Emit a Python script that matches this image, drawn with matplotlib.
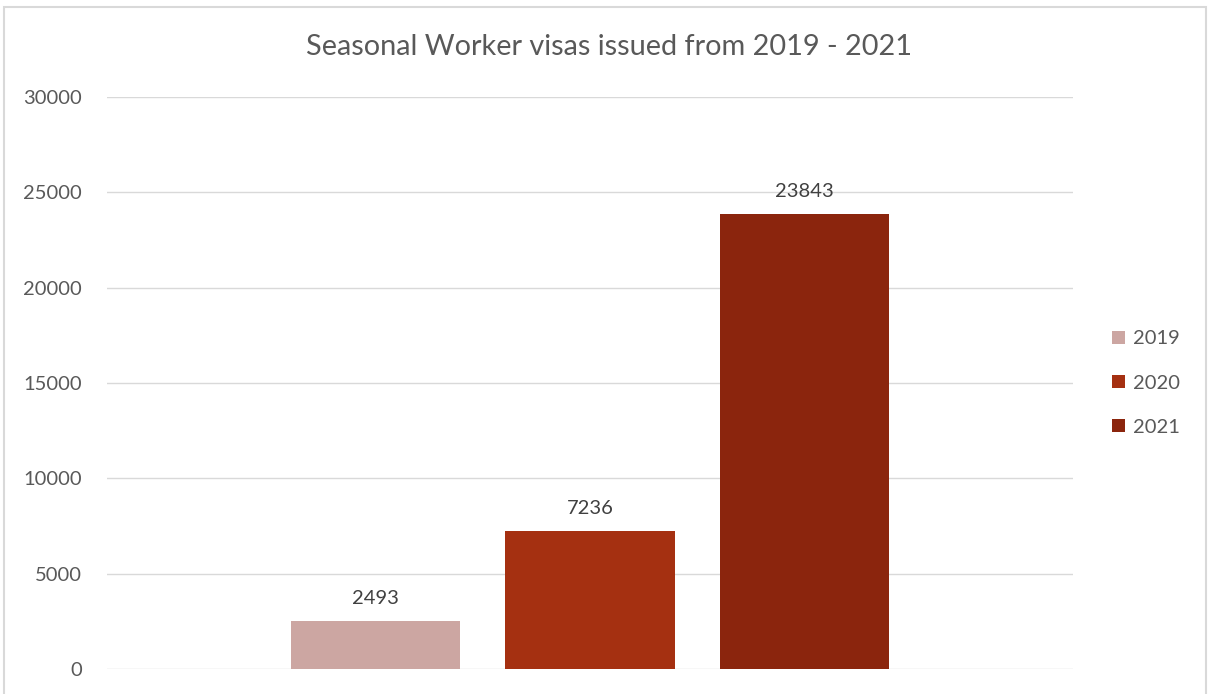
import matplotlib.pyplot as plt
from matplotlib.patches import Rectangle

years = ["2019", "2020", "2021"]
visas = [2493, 7236, 23843]
colors = ["#CCA6A2", "#A53011", "#8B250D"]
yticks = [0, 5000, 10000, 15000, 20000, 25000, 30000]

plt.rcParams["font.family"] = ["Lato", "DejaVu Sans"]
text_color = "#595959"

fig = plt.figure(figsize=(12.08, 6.94), dpi=100)
ax = fig.add_axes([0.0886, 0.036, 0.7996, 0.8242])

width = 0.175
step = 0.222
for i, (yr, v, c) in enumerate(zip(years, visas, colors)):
    x = (i - 1) * step
    ax.bar(x, v, width=width, color=c, label=yr, zorder=3)
    ax.text(x, v + 750, str(v), ha="center", va="bottom", fontsize=14.5, color="#404040")

ax.set_xlim(-0.5, 0.5)
ax.set_ylim(0, 30000)
ax.set_yticks(yticks)
ax.set_yticklabels([str(t) for t in yticks], fontsize=14.5, color=text_color)
ax.set_xticks([])
ax.tick_params(axis="y", length=0, pad=18)
ax.grid(axis="y", color="#D9D9D9", linewidth=1, zorder=0)
for s in ax.spines.values():
    s.set_visible(False)

fig.text(0.504, 0.932, "Seasonal Worker visas issued from 2019 - 2021",
         ha="center", va="center", fontsize=20.8, color=text_color)

leg = ax.legend(loc="center left", bbox_to_anchor=(1.022, 0.5), frameon=False,
                fontsize=14.5, labelcolor=text_color, handlelength=0.65, handleheight=0.65,
                handletextpad=0.4, labelspacing=1.35)

fig.patches.append(Rectangle((0.003, -0.01), 0.995, 1.0, transform=fig.transFigure,
                             fill=False, edgecolor="#D9D9D9", linewidth=1.5))

fig.savefig("out.png", dpi=100)
